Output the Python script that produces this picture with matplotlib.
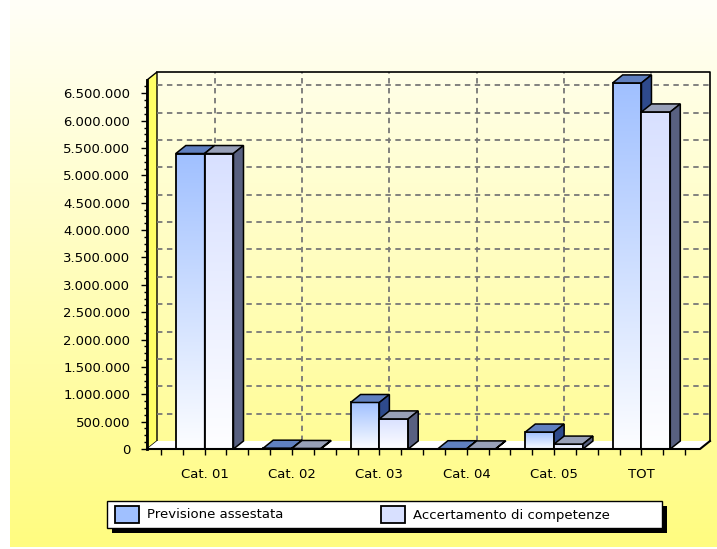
import numpy as np
import matplotlib
matplotlib.use("Agg")
import matplotlib.pyplot as plt
from matplotlib.patches import Polygon, Rectangle
from matplotlib.ticker import MultipleLocator, FuncFormatter

# data
categories = ["Cat. 01", "Cat. 02", "Cat. 03", "Cat. 04", "Cat. 05", "TOT"]
previsione = [5400000, 15000, 850000, 5000, 310000, 6690000]
accertamento = [5400000, 10000, 550000, 2000, 90000, 6160000]
series_names = ["Previsione assestata", "Accertamento di competenze"]

W, H = 717, 549
fig = plt.figure(figsize=(W / 100, H / 100), dpi=100)

# background panel with vertical white -> yellow gradient
bg = fig.add_axes([0, 0, 1, 1])
bg.set_xlim(0, W)
bg.set_ylim(H, 0)
bg.axis("off")
grad = np.linspace(0, 1, 256)[:, None]
top_c = np.array([255, 255, 248]) / 255
bot_c = np.array([255, 252, 128]) / 255
img = top_c * (1 - grad[..., None]) + bot_c * grad[..., None]
bg.imshow(img, extent=(10, W, 547, 0), aspect="auto", interpolation="bicubic")

# plot area (front plane)
x_left, x_right, y_base, y_top = 147, 700, 449, 80
ax = fig.add_axes([x_left / W, (H - y_base) / H, (x_right - x_left) / W, (y_base - y_top) / H])
ax.patch.set_visible(False)
xmin, xmax = -0.66, 5.67
px_per_val = 27.36 / 500000
ymax = (y_base - y_top) / px_per_val
ax.set_xlim(xmin, xmax)
ax.set_ylim(0, ymax)
for s in ax.spines.values():
    s.set_visible(False)

dx = 10 / ((x_right - x_left) / (xmax - xmin))
dy = 8 / px_per_val

# left wall (yellow) and floor (white)
ax.add_patch(Polygon([(xmin, 0), (xmin + dx, dy), (xmin + dx, ymax + dy), (xmin, ymax)],
                     closed=True, fc="#FFFF66", ec="black", lw=1, zorder=1, clip_on=False))
ax.add_patch(Polygon([(xmin, 0), (xmax, 0), (xmax + dx, dy), (xmin + dx, dy)],
                     closed=True, fc="white", ec="none", zorder=1, clip_on=False))

# back wall grid
for v in np.arange(500000, 6500001, 500000):
    ax.plot([xmin + dx, xmax + dx], [v + dy, v + dy], color="#777777", lw=1.3,
            ls=(0, (3, 2.5)), zorder=2, clip_on=False)
for i in range(len(categories)):
    ax.plot([i + dx, i + dx], [dy, ymax + dy], color="#777777", lw=1.3,
            ls=(0, (3, 2.5)), zorder=2, clip_on=False)
# back wall frame
ax.plot([xmin + dx, xmax + dx, xmax + dx], [ymax + dy, ymax + dy, dy],
        color="black", lw=1.2, zorder=2, clip_on=False)
ax.plot([xmin, xmax, xmax + dx], [0, 0, dy], color="black", lw=1.5, zorder=20, clip_on=False)
ax.plot([xmin, xmin], [0, ymax], color="black", lw=2, zorder=20, clip_on=False)

bw = 0.33
styles = [
    dict(front="#A0C0FF", top="#6080C0", side="#2E4A8C"),
    dict(front="#D8E0FF", top="#98A0B8", side="#586080"),
]
white = np.array([1.0, 1.0, 1.0])


def hex2rgb(h):
    return np.array([int(h[k:k + 2], 16) for k in (1, 3, 5)]) / 255


def draw_bar(x0, h, st, z):
    x1 = x0 + bw
    fc = hex2rgb(st["front"])
    g = np.linspace(0, 1, 128)[:, None, None]
    face = fc * (1 - g) + (white * 0.97 + fc * 0.03) * g
    im = ax.imshow(face, extent=(x0, x1, 0, h), aspect="auto", interpolation="bicubic",
                   zorder=z)
    im.set_clip_on(False)
    ax.add_patch(Rectangle((x0, 0), bw, h, fc="none", ec="black", lw=1.3, zorder=z + 0.1,
                           clip_on=False))
    ax.add_patch(Polygon([(x0, h), (x1, h), (x1 + dx, h + dy), (x0 + dx, h + dy)],
                         closed=True, fc=st["top"], ec="black", lw=1.1, zorder=z + 0.2,
                         clip_on=False))
    ax.add_patch(Polygon([(x1, 0), (x1 + dx, dy), (x1 + dx, h + dy), (x1, h)],
                         closed=True, fc=st["side"], ec="black", lw=1.1, zorder=z + 0.2,
                         clip_on=False))


for i in range(len(categories)):
    draw_bar(i - bw, previsione[i], styles[0], 3 + i * 2)
    draw_bar(i, accertamento[i], styles[1], 4 + i * 2)

ax.set_xlim(xmin, xmax)
ax.set_ylim(0, ymax)

# ticks
ax.yaxis.set_major_locator(MultipleLocator(500000))
ax.yaxis.set_minor_locator(MultipleLocator(125000))
ax.yaxis.set_major_formatter(FuncFormatter(lambda v, p: f"{v:,.0f}".replace(",", ".")))
ax.set_yticks(np.arange(0, 6500001, 500000))
ax.tick_params(axis="y", which="major", length=4, width=1, direction="out", pad=8,
               labelsize=9.5, colors="black")
ax.tick_params(axis="y", which="minor", length=2, width=1, direction="out")
ax.set_xticks(range(len(categories)))
ax.set_xticklabels(categories)
ax.xaxis.set_minor_locator(MultipleLocator(0.25))
ax.tick_params(axis="x", which="major", length=4, width=1, direction="out", pad=10,
               labelsize=9.5, colors="black")
ax.tick_params(axis="x", which="minor", length=4, width=1, direction="out")

# legend drawn by hand
bg2 = fig.add_axes([0, 0, 1, 1])
bg2.set_xlim(0, W)
bg2.set_ylim(H, 0)
bg2.axis("off")
bg2.add_patch(Rectangle((112, 506), 555, 27, fc="black", ec="none"))
bg2.add_patch(Rectangle((107, 501), 555, 27, fc="white", ec="black", lw=1))
for hx, tx, st, name in [(115, 147, styles[0], series_names[0]),
                         (381, 413, styles[1], series_names[1])]:
    bg2.add_patch(Rectangle((hx, 506), 24, 17, fc=st["front"], ec="black", lw=1.3))
    bg2.text(tx, 515, name, fontsize=9.5, va="center", ha="left", color="black")

fig.savefig("out.png", dpi=100)
